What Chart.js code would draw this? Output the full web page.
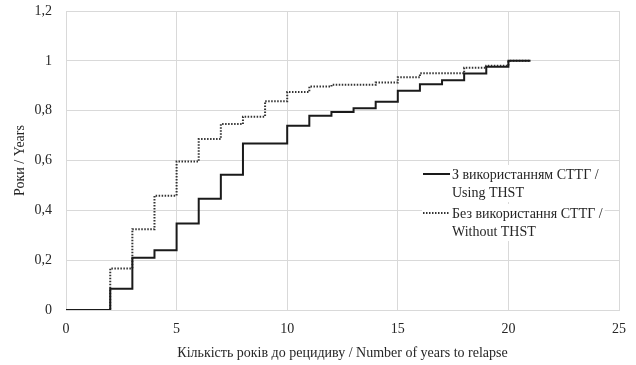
<!DOCTYPE html>
<html>
<head>
<meta charset="utf-8">
<script src="https://cdn.jsdelivr.net/npm/chart.js@4.4.0/dist/chart.umd.min.js"></script>
<style>
html,body{margin:0;padding:0;background:#fff;}
#wrap{width:636px;height:365px;position:relative;}
</style>
</head>
<body>
<div id="wrap"><canvas id="c" width="636" height="365"></canvas></div>
<script>
// Data
const yearsWith = [0, 2, 3, 4, 5, 6, 7, 8, 10, 11, 12, 13, 14, 15, 16, 17, 18, 19, 20, 21];
const valuesWith = [0, 0.085, 0.21, 0.24, 0.347, 0.446, 0.543, 0.668, 0.739, 0.78, 0.795, 0.81, 0.836, 0.88, 0.906, 0.922, 0.949, 0.976, 1.0, 1.0];
const yearsWithout = [0, 2, 3, 4, 5, 6, 7, 8, 9, 10, 11, 12, 14, 15, 16, 18, 19, 20, 21];
const valuesWithout = [0, 0.167, 0.324, 0.459, 0.596, 0.686, 0.746, 0.776, 0.838, 0.875, 0.897, 0.904, 0.913, 0.934, 0.95, 0.972, 0.98, 1.0, 1.0];
const seriesNames = [["З використанням СТТГ /", "Using THST"], ["Без використання СТТГ /", "Without THST"]];
const xTitle = "Кількість років до рецидиву / Number of years to relapse";
const yTitle = "Роки / Years";

const FONT = "'Liberation Serif', 'Times New Roman', serif";
const TXT = '#262626';

function pts(xs, ys) { return xs.map((x, i) => ({x: x, y: ys[i]})); }

const legendPlugin = {
  id: 'customLegend',
  afterDraw(chart) {
    const ctx = chart.ctx;
    const ds = chart.data.datasets;
    const x0 = 423, x1 = 450, tx = 452;
    const rows = [174, 213];
    ctx.save();
    ctx.font = '14px ' + FONT;
    ctx.textBaseline = 'middle';
    ds.forEach((d, i) => {
      const y = rows[i];
      const lines = seriesNames[i];
      let w = 0;
      lines.forEach(l => { w = Math.max(w, ctx.measureText(l).width); });
      ctx.fillStyle = '#fff';
      ctx.fillRect(x0 - 1, y - 9, (tx - x0) + w + 3, 37);
      ctx.beginPath();
      ctx.strokeStyle = d.borderColor;
      ctx.lineWidth = d.borderWidth;
      ctx.setLineDash(d.borderDash || []);
      ctx.moveTo(x0, y);
      ctx.lineTo(x1, y);
      ctx.stroke();
      ctx.setLineDash([]);
      ctx.fillStyle = TXT;
      lines.forEach((l, k) => ctx.fillText(l, tx, y + 1 + k * 18));
    });
    ctx.restore();
  }
};

new Chart(document.getElementById('c'), {
  type: 'line',
  data: {
    datasets: [
      {
        label: seriesNames[0].join(' '),
        data: pts(yearsWith, valuesWith),
        borderColor: '#1a1a1a',
        borderWidth: 2,
        stepped: 'before',
        pointRadius: 0,
        fill: false,
        order: 1
      },
      {
        label: seriesNames[1].join(' '),
        data: pts(yearsWithout, valuesWithout),
        borderColor: '#333333',
        borderWidth: 2,
        borderDash: [1.5, 1.5],
        stepped: 'before',
        pointRadius: 0,
        fill: false,
        order: 2
      }
    ]
  },
  options: {
    responsive: false,
    animation: false,
    devicePixelRatio: 1,
    layout: { padding: { top: 11, right: 17, left: 0, bottom: 0 } },
    plugins: {
      legend: { display: false },
      tooltip: { enabled: false }
    },
    scales: {
      x: {
        type: 'linear',
        min: 0, max: 25,
        ticks: { stepSize: 5, padding: 11, color: TXT, font: { family: FONT, size: 14 } },
        grid: { color: '#d9d9d9', drawTicks: false },
        border: { color: '#d9d9d9' },
        title: { display: true, text: xTitle, color: TXT, font: { family: FONT, size: 14 }, padding: { top: 4, bottom: 3 } },
        afterFit(s) { s.height = 55; s.paddingLeft = 0; s.paddingRight = 0; }
      },
      y: {
        min: 0, max: 1.2,
        ticks: {
          stepSize: 0.2, padding: 14, color: TXT, font: { family: FONT, size: 14 },
          callback: v => String(Number(v.toFixed(1))).replace('.', ',')
        },
        grid: { color: '#d9d9d9', drawTicks: false },
        border: { color: '#d9d9d9' },
        title: { display: true, text: yTitle, color: TXT, font: { family: FONT, size: 14 }, padding: { top: 12, bottom: 0 } },
        afterFit(s) { s.width = 66; s.paddingTop = 0; s.paddingBottom = 0; }
      }
    }
  },
  plugins: [legendPlugin]
});
</script>
</body>
</html>
